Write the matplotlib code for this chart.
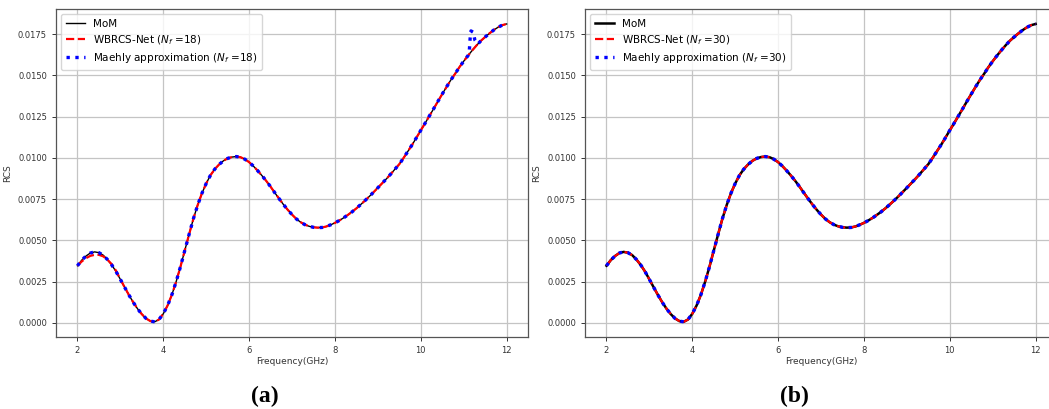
import matplotlib
matplotlib.use("Agg")
import matplotlib.pyplot as plt
import numpy as np

# Frequency grid (GHz)
freq = [2.0, 2.1, 2.2, 2.3, 2.4, 2.5, 2.6, 2.7, 2.8, 2.9,
        3.0, 3.1, 3.2, 3.3, 3.4, 3.5, 3.6, 3.7, 3.8, 3.9,
        4.0, 4.1, 4.2, 4.3, 4.4, 4.5, 4.6, 4.7, 4.8, 4.9,
        5.0, 5.1, 5.2, 5.3, 5.4, 5.5, 5.6, 5.7, 5.8, 5.9,
        6.0, 6.1, 6.2, 6.3, 6.4, 6.5, 6.6, 6.7, 6.8, 6.9,
        7.0, 7.1, 7.2, 7.3, 7.4, 7.5, 7.6, 7.7, 7.8, 7.9,
        8.0, 8.1, 8.2, 8.3, 8.4, 8.5, 8.6, 8.7, 8.8, 8.9,
        9.0, 9.1, 9.2, 9.3, 9.4, 9.5, 9.6, 9.7, 9.8, 9.9,
        10.0, 10.1, 10.2, 10.3, 10.4, 10.5, 10.6, 10.7, 10.8, 10.9,
        11.0, 11.1, 11.2, 11.3, 11.4, 11.5, 11.6, 11.7, 11.8, 11.9, 12.0]

# MoM reference RCS (x1e-3)
mom = [3.46, 3.80, 4.05, 4.23, 4.30, 4.25, 4.10, 3.83, 3.50, 3.10,
       2.63, 2.15, 1.68, 1.24, 0.85, 0.52, 0.26, 0.10, 0.06, 0.20,
       0.55, 1.05, 1.70, 2.50, 3.40, 4.38, 5.35, 6.30, 7.13, 7.85,
       8.45, 8.95, 9.32, 9.60, 9.82, 9.97, 10.05, 10.08, 10.04, 9.92,
       9.74, 9.50, 9.22, 8.92, 8.60, 8.25, 7.88, 7.52, 7.17, 6.85,
       6.56, 6.30, 6.10, 5.95, 5.85, 5.79, 5.77, 5.78, 5.84, 5.94,
       6.06, 6.20, 6.36, 6.54, 6.73, 6.94, 7.17, 7.41, 7.66, 7.92,
       8.19, 8.46, 8.73, 9.02, 9.32, 9.62, 10.00, 10.40, 10.80, 11.23,
       11.67, 12.10, 12.54, 12.98, 13.43, 13.87, 14.30, 14.72, 15.10, 15.50,
       15.86, 16.20, 16.52, 16.82, 17.10, 17.33, 17.55, 17.75, 17.92, 18.05, 18.12]

# WBRCS-Net, N_f = 18 (differs from MoM at the low end)
wb18 = [3.46, 3.72, 3.92, 4.06, 4.12, 4.12, 4.03, 3.82, 3.55, 3.15] + mom[10:]

# Maehly approximation, N_f = 18 (spike near 11.2 GHz)
maehly18_freq = freq[:92] + [11.13, 11.15, 11.17, 11.22, 11.26, 11.33] + freq[94:]
maehly18 = mom[:92] + [16.45, 17.25, 17.70, 17.62, 17.15, 16.90] + mom[94:]

# N_f = 30: both match MoM
wb30 = list(mom)
maehly30 = list(mom)

scale = 1e-3

fig = plt.figure(figsize=(10.49, 4.09), dpi=100)
ax_a = fig.add_axes([0.0534, 0.1768, 0.45, 0.801])
ax_b = fig.add_axes([0.5577, 0.1768, 0.45, 0.801])

panels = [
    (ax_a, 18, wb18, maehly18_freq, maehly18, 1.0),
    (ax_b, 30, wb30, freq, maehly30, 1.8),
]

for ax, nf, wb, mf, ma, mom_lw in panels:
    ax.plot(freq, np.array(mom) * scale, color='k', lw=mom_lw, label='MoM')
    ax.plot(freq, np.array(wb) * scale, 'r--', lw=1.6,
            label=r'WBRCS-Net ($N_f$ =%d)' % nf)
    ax.plot(mf, np.array(ma) * scale, color='b', ls=':', lw=2.4,
            label=r'Maehly approximation ($N_f$ =%d)' % nf)
    ax.grid(True, color='#c4c4c4', lw=0.9)
    ax.set_xticks([2, 4, 6, 8, 10, 12])
    ax.set_yticks([0.0, 0.0025, 0.005, 0.0075, 0.01, 0.0125, 0.015, 0.0175])
    ax.yaxis.set_major_formatter(matplotlib.ticker.FormatStrFormatter('%.4f'))
    ax.tick_params(labelsize=6, length=3, width=0.7, colors='#333333')
    ax.set_xlabel('Frequency(GHz)', fontsize=6.5, color='#333333', labelpad=2)
    ax.set_ylabel('RCS', fontsize=6.5, color='#333333', labelpad=4)
    for sp in ax.spines.values():
        sp.set_color('#555555')
        sp.set_linewidth(0.9)
    ax.legend(loc='upper left', fontsize=7.5, framealpha=0.8,
              borderpad=0.45, handlelength=1.8, labelspacing=0.4)

fig.text(0.2526, 0.03, '(a)', ha='center', va='center', fontsize=17,
         fontweight='bold', family='Liberation Serif')
fig.text(0.757, 0.03, '(b)', ha='center', va='center', fontsize=17,
         fontweight='bold', family='Liberation Serif')

fig.savefig('out.png', dpi=100)
